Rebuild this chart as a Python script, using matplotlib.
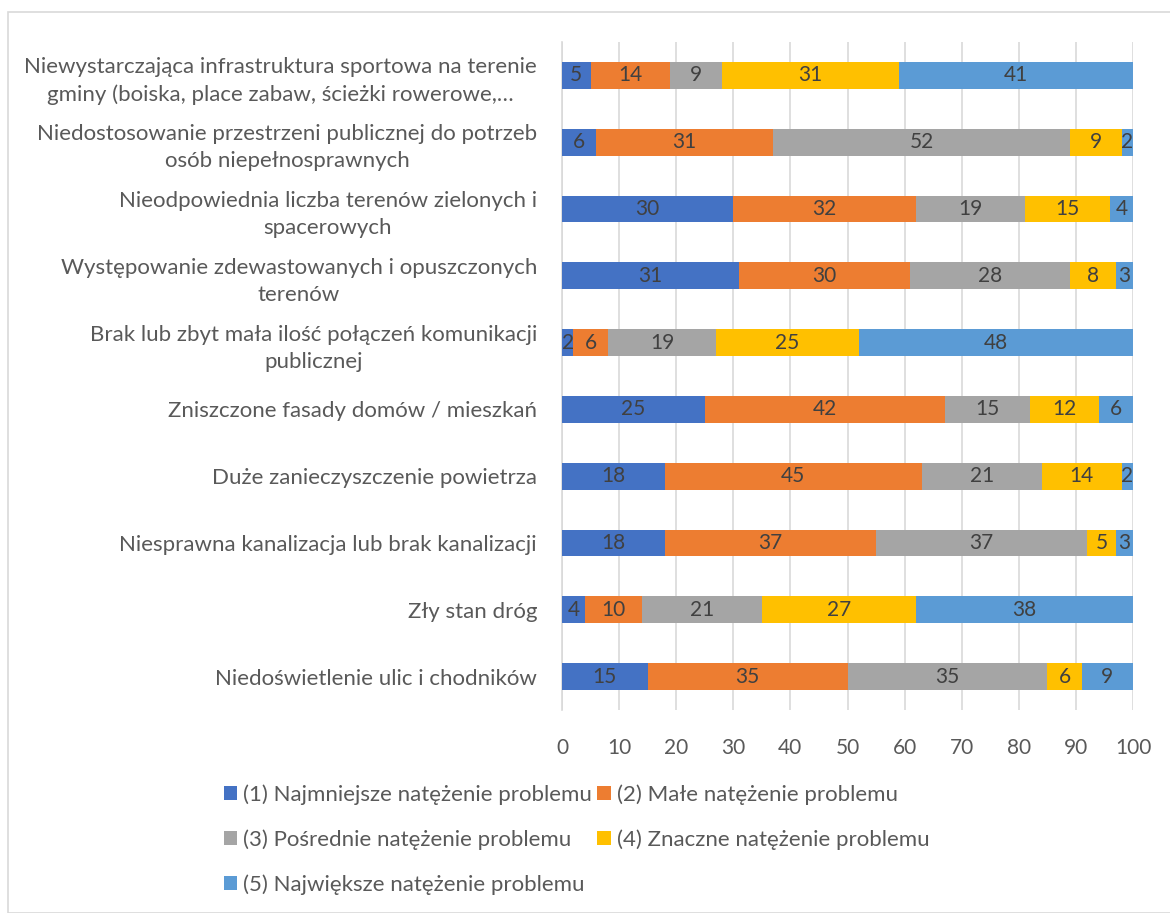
import matplotlib
matplotlib.use("Agg")
import matplotlib.pyplot as plt
from matplotlib.patches import Rectangle

categories = [
    "Niewystarczająca infrastruktura sportowa na terenie\ngminy (boiska, place zabaw, ścieżki rowerowe,…",
    "Niedostosowanie przestrzeni publicznej do potrzeb\nosób niepełnosprawnych",
    "Nieodpowiednia liczba terenów zielonych i\nspacerowych",
    "Występowanie zdewastowanych i opuszczonych\nterenów",
    "Brak lub zbyt mała ilość połączeń komunikacji\npublicznej",
    "Zniszczone fasady domów / mieszkań",
    "Duże zanieczyszczenie powietrza",
    "Niesprawna kanalizacja lub brak kanalizacji",
    "Zły stan dróg",
    "Niedoświetlenie ulic i chodników",
]
series_names = [
    "(1) Najmniejsze natężenie problemu",
    "(2) Małe natężenie problemu",
    "(3) Pośrednie natężenie problemu",
    "(4) Znaczne natężenie problemu",
    "(5) Największe natężenie problemu",
]
s1 = [5, 6, 30, 31, 2, 25, 18, 18, 4, 15]
s2 = [14, 31, 32, 30, 6, 42, 45, 37, 10, 35]
s3 = [9, 52, 19, 28, 19, 15, 21, 37, 21, 35]
s4 = [31, 9, 15, 8, 25, 12, 14, 5, 27, 6]
s5 = [41, 2, 4, 3, 48, 6, 2, 3, 38, 9]
series = [s1, s2, s3, s4, s5]
colors = ["#4472C4", "#ED7D31", "#A5A5A5", "#FFC000", "#5B9BD5"]
ticks = list(range(0, 101, 10))

plt.rcParams['font.family'] = ['Lato', 'DejaVu Sans']

fig = plt.figure(figsize=(11.70, 9.13), dpi=100)
fig.patches.append(Rectangle((8/1170, 0), 1.2, 1 - 12/913, transform=fig.transFigure,
                             fill=False, edgecolor="#D9D9D9", linewidth=1.2))
ax = fig.add_axes([562/1170, 1 - 710/913, (1133-562)/1170, (710-42)/913])

ypos = list(range(len(categories)))
left = [0] * len(categories)
handles = []
for name, vals, c in zip(series_names, series, colors):
    bars = ax.barh(ypos, vals, left=left, height=0.40, color=c, label=name, zorder=3)
    handles.append(bars)
    for b, v, l in zip(bars, vals, left):
        ax.text(l + v / 2, b.get_y() + b.get_height() / 2, str(v), ha="center", va="center",
                fontsize=15, color="#404040", zorder=4)
    left = [a + b for a, b in zip(left, vals)]

ax.set_ylim(len(categories) - 0.5, -0.5)
ax.set_xlim(0, 100)
ax.set_xticks(ticks)
ax.set_xticklabels([str(t) for t in ticks], fontsize=15, color="#595959")
ax.set_yticks(ypos)
ax.set_yticklabels(categories, fontsize=16, color="#595959", linespacing=1.45,
                   multialignment="center")
ax.tick_params(axis="both", length=0)
ax.tick_params(axis="x", pad=20)
ax.tick_params(axis="y", pad=18)
ax.grid(axis="x", color="#D9D9D9", linewidth=1.2, zorder=0)
for sp in ["top", "right", "bottom"]:
    ax.spines[sp].set_visible(False)
ax.spines["left"].set_color("#D9D9D9")
ax.spines["left"].set_linewidth(1.2)

order = [0, 2, 4, 1, 3]
fig.legend([handles[i] for i in order], [series_names[i] for i in order], ncol=2,
           loc="upper left", bbox_to_anchor=(224/1170, 1 - 784/913), frameon=False,
           fontsize=16, labelcolor="#595959", handlelength=0.6, handleheight=0.6,
           handletextpad=0.27, columnspacing=0.23, labelspacing=1.1,
           borderpad=0, borderaxespad=0)

fig.savefig("out.png", dpi=100, facecolor="white")
